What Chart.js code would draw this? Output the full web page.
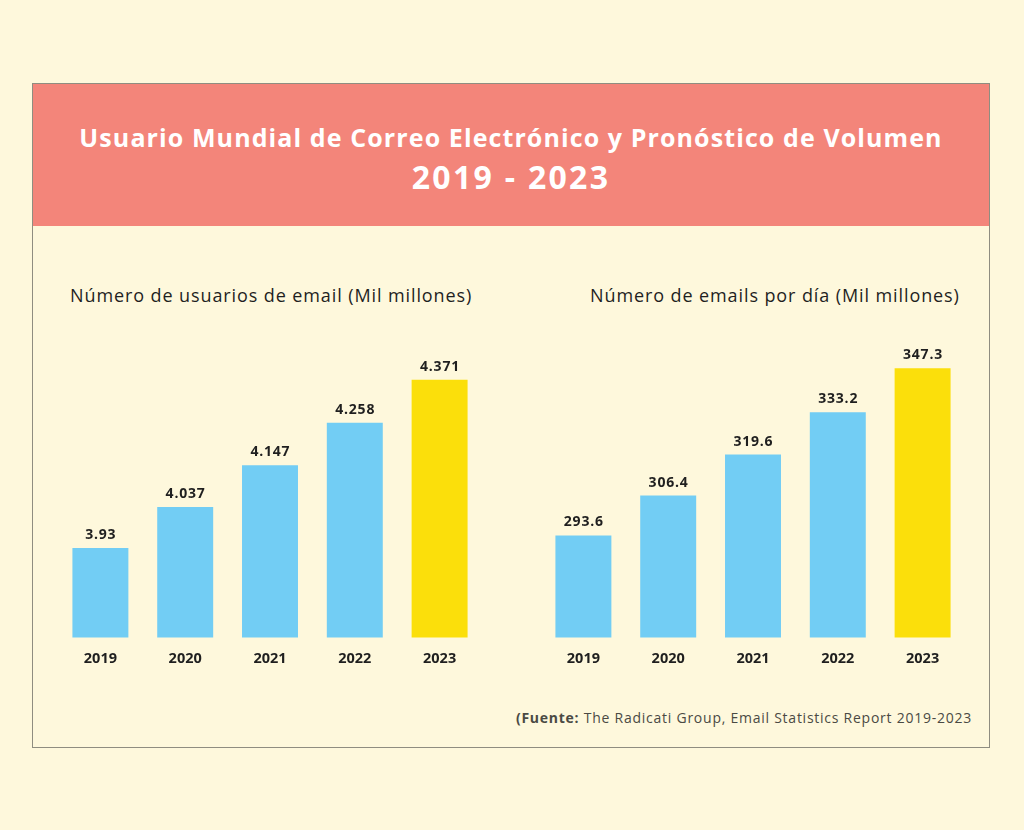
<!DOCTYPE html>
<html><head><meta charset="utf-8">
<script src="https://cdn.jsdelivr.net/npm/chart.js@4.4.0/dist/chart.umd.min.js"></script>
<style>
html,body{margin:0;padding:0;background:#FEF8DC;width:1024px;height:830px;overflow:hidden;font-family:"Open Sans",Lato,sans-serif;}
#box{position:absolute;left:32px;top:83px;width:956px;height:663px;border:1px solid #8f8d80;}
#head{position:absolute;left:0;top:0;width:956px;height:142px;background:#F3857A;color:#fff;text-align:center;}
#t1{position:absolute;left:0;width:956px;top:36px;font-size:25px;font-weight:700;letter-spacing:1.1px;white-space:nowrap;}
#t2{position:absolute;left:0;width:956px;top:71px;font-size:32px;font-weight:700;letter-spacing:2.3px;white-space:nowrap;}
.sub{position:absolute;font-size:18px;letter-spacing:0.9px;color:#1f1f1f;white-space:nowrap;}
#foot{position:absolute;right:52px;top:708px;font-size:14px;letter-spacing:0.75px;color:#4a4a44;white-space:nowrap;}
canvas{position:absolute;}
</style></head><body>
<div id="box"><div id="head"><div id="t1">Usuario Mundial de Correo Electrónico y Pronóstico de Volumen</div><div id="t2">2019 - 2023</div></div></div>
<div class="sub" style="left:70px;top:283px;">Número de usuarios de email (Mil millones)</div>
<div class="sub" style="left:590px;top:283px;">Número de emails por día (Mil millones)</div>
<div id="foot"><b>(Fuente:</b> The Radicati Group, Email Statistics Report 2019-2023</div>
<div style="position:absolute;left:40px;top:327px;width:460px;height:370px;"><canvas id="c1"></canvas></div>
<div style="position:absolute;left:523px;top:327px;width:460px;height:370px;"><canvas id="c2"></canvas></div>
<script>
const years = ["2019","2020","2021","2022","2023"];
const users = [3.93, 4.037, 4.147, 4.258, 4.371];
const userLabels = ["3.93","4.037","4.147","4.258","4.371"];
const emails = [293.6, 306.4, 319.6, 333.2, 347.3];
const emailLabels = ["293.6","306.4","319.6","333.2","347.3"];
const barColors = ["#72CDF4","#72CDF4","#72CDF4","#72CDF4","#FBDF0B"];

const valueLabels = {
  id:'valueLabels',
  afterDatasetsDraw(chart){
    const ctx = chart.ctx;
    const labels = chart.options.plugins.valueLabels.labels;
    const meta = chart.getDatasetMeta(0);
    ctx.save();
    ctx.font = "bold 14px 'Open Sans', Lato, sans-serif";
    ctx.letterSpacing = "0.8px";
    ctx.fillStyle = "#1f1f1f";
    ctx.textAlign = "center";
    ctx.textBaseline = "alphabetic";
    meta.data.forEach((bar,i)=>{ ctx.fillText(labels[i], bar.x + 0.4, bar.y - 9); });
    ctx.restore();
  }
};

function makeChart(id, data, labels, min, max){
  return new Chart(document.getElementById(id), {
    type:'bar',
    data:{labels:years, datasets:[{data:data, backgroundColor:barColors, borderWidth:0, barPercentage:0.66, categoryPercentage:1.0}]},
    options:{
      responsive:true, maintainAspectRatio:false, animation:false,
      layout:{padding:{left:18,right:18,top:0,bottom:16}},
      plugins:{legend:{display:false}, tooltip:{enabled:false}, valueLabels:{labels:labels}},
      scales:{
        x:{grid:{display:false, drawTicks:false}, border:{display:false},
           ticks:{color:"#1f1f1f", font:{family:"'Open Sans', Lato, sans-serif", size:14.5, weight:'bold'}, padding:13}},
        y:{display:false, min:min, max:max}
      }
    },
    plugins:[valueLabels]
  });
}
makeChart('c1', users, userLabels, 3.695, 4.509);
makeChart('c2', emails, emailLabels, 260.74, 360.6);
</script>
</body></html>
